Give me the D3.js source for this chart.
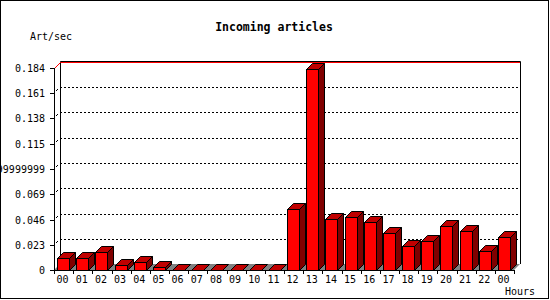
<!DOCTYPE html>
<html>
<head>
<meta charset="utf-8">
<script src="https://cdn.jsdelivr.net/npm/d3@7"></script>
<style>
  body { margin: 0; background: #fff; }
  svg { display: block; }
</style>
</head>
<body>
<div id="chart"></div>
<script>
// Hour labels along the x axis (last one wraps back to 00)
const hours = ["00","01","02","03","04","05","06","07","08","09","10","11",
               "12","13","14","15","16","17","18","19","20","21","22","00"];

// Incoming articles per second
const artPerSec = [0.0107, 0.0107, 0.0161, 0.0043, 0.0070, 0.0025, 0, 0, 0, 0, 0, 0,
                   0.0553, 0.1835, 0.0462, 0.0480, 0.0434, 0.0334, 0.0216, 0.0261,
                   0.0398, 0.0352, 0.0170, 0.0298];

// Y axis ticks and their labels as printed
const yTicks = [0, 0.023, 0.046, 0.069, 0.092, 0.115, 0.138, 0.161, 0.184];
const yTickLabels = ["0", "0.023", "0.046", "0.069", "0.09199999999", "0.115", "0.138", "0.161", "0.184"];
const maxValue = 0.184;

const width = 550, height = 300;
const depth = 6;          // 3D offset
const font = "'DejaVu Sans Mono', monospace";

const svg = d3.select("#chart").append("svg")
    .attr("width", width)
    .attr("height", height);

svg.append("rect").attr("width", width).attr("height", height).attr("fill", "#fff");

const x = d3.scaleBand()
    .domain(d3.range(hours.length))
    .range([54, 514])
    .padding(0);

const y = d3.scaleLinear()
    .domain([0, maxValue])
    .range([270, 68]);

const y0 = y(0);
const xL = x.range()[0], xR = x.range()[1];

// Back wall gridlines (dotted)
yTicks.slice(1, -1).forEach(t => {
    svg.append("line")
        .attr("x1", xL + depth).attr("x2", xR + depth)
        .attr("y1", Math.round(y(t)) - depth + 0.5).attr("y2", Math.round(y(t)) - depth + 0.5)
        .attr("stroke", "#000")
        .attr("stroke-dasharray", "2,2");
    // small slanted connector from the front axis to the wall
    svg.append("line")
        .attr("x1", xL + 2).attr("y1", Math.round(y(t)) - 2)
        .attr("x2", xL + 4).attr("y2", Math.round(y(t)) - 4)
        .attr("stroke", "#000");
});

// Back wall frame
svg.append("path")
    .attr("d", `M${xL + depth + 0.5},${y0 - depth} V${y(maxValue) - depth - 0.5} H${xR + depth + 0.5} V${y0 - depth}`)
    .attr("fill", "none")
    .attr("stroke", "#000");

// Floor
svg.append("path")
    .attr("d", `M${xL},${y0} L${xL + depth},${y0 - depth} H${xR + depth} L${xR},${y0} Z`)
    .attr("fill", "#808080");

// Max line in red
svg.append("path")
    .attr("d", `M${xL + 0.5},${y(maxValue) + 0.5} L${xL + depth + 0.5},${y(maxValue) - depth + 0.5} H${xR + depth}`)
    .attr("fill", "none")
    .attr("stroke", "#ff0000");

// Bars
const bw = 12;
const bars = svg.append("g")
    .selectAll("g")
    .data(artPerSec)
    .enter().append("g");

bars.each(function(v, i) {
    const g = d3.select(this);
    const bx = Math.round(x(i) + 3) + 0.5;
    const by = Math.round(y(v)) + 0.5;
    const b0 = y0 + 0.5;
    // top face
    g.append("polygon")
        .attr("points", `${bx},${by} ${bx + depth},${by - depth} ${bx + bw + depth},${by - depth} ${bx + bw},${by}`)
        .attr("fill", "#c00000")
        .attr("stroke", "#000");
    if (v > 0) {
        // side face
        g.append("polygon")
            .attr("points", `${bx + bw},${by} ${bx + bw + depth},${by - depth} ${bx + bw + depth},${b0 - depth} ${bx + bw},${b0}`)
            .attr("fill", "#800000")
            .attr("stroke", "#000");
        // front face
        g.append("rect")
            .attr("x", bx).attr("y", by)
            .attr("width", bw).attr("height", b0 - by)
            .attr("fill", "#ff0000")
            .attr("stroke", "#000");
    }
});

// Y axis
svg.append("line")
    .attr("x1", xL + 0.5).attr("x2", xL + 0.5)
    .attr("y1", y(maxValue)).attr("y2", y0 + 1)
    .attr("stroke", "#000");

yTicks.forEach((t, i) => {
    const ty = Math.round(y(t)) + 0.5;
    svg.append("line")
        .attr("x1", xL - 4).attr("x2", xL)
        .attr("y1", ty).attr("y2", ty)
        .attr("stroke", "#000");
    svg.append("text")
        .attr("x", 45).attr("y", ty + 3.5)
        .attr("text-anchor", "end")
        .style("font-family", font)
        .style("font-size", "10px")
        .text(yTickLabels[i]);
});

// X axis
svg.append("line")
    .attr("x1", xL).attr("x2", xR)
    .attr("y1", y0 + 0.5).attr("y2", y0 + 0.5)
    .attr("stroke", "#000");

d3.range(hours.length + 1).forEach(i => {
    const tx = Math.round(xL + i * x.bandwidth()) + 0.5;
    svg.append("line")
        .attr("x1", tx).attr("x2", tx)
        .attr("y1", y0).attr("y2", y0 + 4)
        .attr("stroke", "#000");
});

svg.append("g")
    .selectAll("text")
    .data(hours)
    .enter().append("text")
    .attr("x", (d, i) => x(i) + x.bandwidth() / 2 - 1)
    .attr("y", 283)
    .attr("text-anchor", "middle")
    .style("font-family", font)
    .style("font-size", "10px")
    .text(d => d);

// Titles
svg.append("text")
    .attr("x", 274).attr("y", 31)
    .attr("text-anchor", "middle")
    .style("font-family", font)
    .style("font-size", "11.5px")
    .style("font-weight", "bold")
    .text("Incoming articles");

svg.append("text")
    .attr("x", 30).attr("y", 40)
    .style("font-family", font)
    .style("font-size", "10px")
    .text("Art/sec");

svg.append("text")
    .attr("x", 505).attr("y", 295)
    .style("font-family", font)
    .style("font-size", "10px")
    .text("Hours");

// Outer border
svg.append("rect")
    .attr("x", 0.5).attr("y", 0.5)
    .attr("width", width - 2).attr("height", height - 2)
    .attr("fill", "none")
    .attr("stroke", "#000");
</script>
</body>
</html>
